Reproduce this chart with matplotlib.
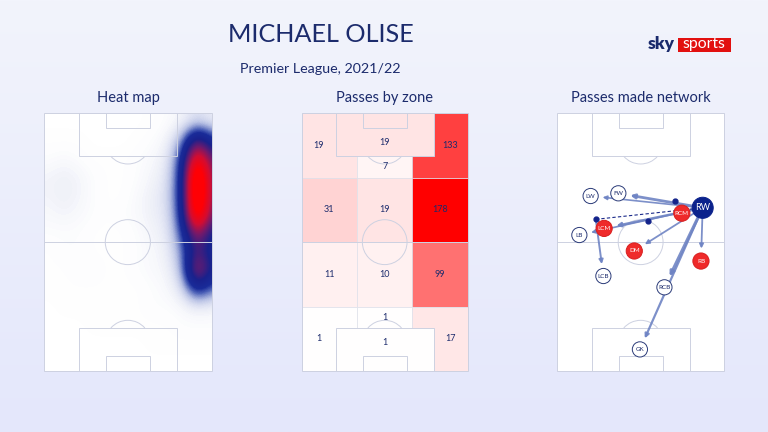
import numpy as np
import matplotlib
matplotlib.use("Agg")
import matplotlib.pyplot as plt
from matplotlib.colors import LinearSegmentedColormap, Normalize
from matplotlib.patches import Rectangle, Circle, Arc, FancyArrowPatch

plt.rcParams['font.family'] = ['Lato', 'DejaVu Sans']

# ---------------- data ----------------
title = "MICHAEL OLISE"
subtitle = "Premier League, 2021/22"
panel_titles = ["Heat map", "Passes by zone", "Passes made network"]

# heat map intensity (rows: top -> bottom of pitch, 7.5 units each;
# cols: left -> right, 6 units each, centred at x = 2, 8, ..., 68)
heat_grid = [
    [0.00, 0.00, 0.00, 0.00, 0.00, 0.00, 0.00, 0.01, 0.02, 0.04, 0.08, 0.05],
    [0.01, 0.01, 0.01, 0.00, 0.00, 0.00, 0.01, 0.02, 0.04, 0.15, 0.45, 0.25],
    [0.02, 0.03, 0.02, 0.01, 0.01, 0.01, 0.02, 0.03, 0.06, 0.24, 0.78, 0.42],
    [0.04, 0.05, 0.04, 0.02, 0.01, 0.01, 0.02, 0.04, 0.07, 0.26, 1.00, 0.46],
    [0.04, 0.05, 0.04, 0.02, 0.01, 0.01, 0.03, 0.05, 0.08, 0.26, 1.00, 0.46],
    [0.03, 0.04, 0.03, 0.02, 0.01, 0.02, 0.03, 0.05, 0.07, 0.25, 0.92, 0.42],
    [0.02, 0.02, 0.02, 0.01, 0.01, 0.01, 0.02, 0.04, 0.06, 0.21, 0.55, 0.30],
    [0.01, 0.02, 0.02, 0.01, 0.01, 0.01, 0.02, 0.03, 0.05, 0.16, 0.42, 0.26],
    [0.01, 0.01, 0.02, 0.02, 0.01, 0.01, 0.02, 0.03, 0.04, 0.13, 0.58, 0.32],
    [0.01, 0.01, 0.01, 0.01, 0.01, 0.01, 0.01, 0.02, 0.03, 0.08, 0.30, 0.18],
    [0.00, 0.01, 0.01, 0.01, 0.01, 0.01, 0.01, 0.02, 0.02, 0.03, 0.05, 0.04],
    [0.00, 0.00, 0.00, 0.01, 0.01, 0.01, 0.01, 0.01, 0.01, 0.02, 0.02, 0.02],
    [0.00, 0.00, 0.00, 0.00, 0.00, 0.00, 0.00, 0.01, 0.01, 0.01, 0.01, 0.01],
    [0.00, 0.00, 0.00, 0.00, 0.00, 0.00, 0.00, 0.00, 0.00, 0.00, 0.00, 0.00],
]

# passes by zone (rows: top -> bottom, cols: left -> right)
zone_values = [
    [19, 7, 133],
    [31, 19, 178],
    [11, 10, 99],
    [1, 1, 17],
]
box_values = [19, 1]  # top penalty box, bottom penalty box

# pass network
node_names = ["LW", "FW", "RW", "RCM", "LCM", "LB", "DM", "RB", "LCB", "RCB", "GK"]
node_x = [13.6, 24.9, 59.3, 50.8, 19.1, 9.0, 31.4, 58.6, 18.8, 43.7, 33.7]
node_y = [71.3, 72.4, 66.5, 64.3, 58.1, 55.4, 48.9, 44.8, 38.7, 34.1, 8.8]
node_group = ["other", "other", "player", "top", "top", "other", "top", "top",
              "other", "other", "other"]
pass_to = ["FW", "LW", "LCM", "LB", "DM", "RB", "RCB", "GK"]
pass_from = ["RW"] * len(pass_to)
point_x = [48.0, 36.9, 15.7]
point_y = [69.3, 61.2, 61.8]

# ---------------- style ----------------
W, H = 768, 432
NAVY = "#1c2b6c"
LINE = "#cdd1e1"
L, WID = 68.0, 105.0

fig = plt.figure(figsize=(7.68, 4.32), dpi=100)

def fx(px):
    return px / W

def fy(py):
    return 1 - py / H

# background gradient
bg = fig.add_axes([0, 0, 1, 1], zorder=-5)
grad = np.linspace(0, 1, 256).reshape(-1, 1)
bg_cmap = LinearSegmentedColormap.from_list("bg", ["#f2f4fc", "#e4e7fb"])
bg.imshow(grad, aspect="auto", cmap=bg_cmap, extent=(0, 1, 0, 1), origin="upper")
bg.axis("off")

def pitch_axes(left_px, right_px, top_px=113.3, bottom_px=371.0):
    ax = fig.add_axes([fx(left_px), fy(bottom_px), (right_px - left_px) / W,
                       (bottom_px - top_px) / H])
    ax.set_xlim(0, L)
    ax.set_ylim(0, WID)
    ax.axis("off")
    return ax

def draw_lines(ax, z=3, lw=0.8, box_fill=None):
    kw = dict(ec=LINE, lw=lw, zorder=z)
    ax.add_patch(Rectangle((0, 0), L, WID, fc="none", clip_on=False, **kw))
    ax.plot([0, L], [WID / 2, WID / 2], color=LINE, lw=lw, zorder=z)
    ax.add_patch(Circle((L / 2, WID / 2), 9.15, fc="none", **kw))
    bw, bd = 40.0, 17.5
    sw, sd = 18.0, 6.0
    for i, yb in enumerate([WID - bd, 0]):
        fc = "none" if box_fill is None else box_fill[i]
        ax.add_patch(Rectangle(((L - bw) / 2, yb), bw, bd, fc=fc, **kw))
    for yb in [WID - sd, 0]:
        ax.add_patch(Rectangle(((L - sw) / 2, yb), sw, sd, fc="none", **kw))
    ax.add_patch(Arc((L / 2, WID - 11.5), 18.3, 18.3, theta1=221, theta2=319,
                     color=LINE, lw=lw, zorder=z))
    ax.add_patch(Arc((L / 2, 11.5), 18.3, 18.3, theta1=41, theta2=139,
                     color=LINE, lw=lw, zorder=z))

# ---------------- titles ----------------
fig.text(fx(321), fy(34.5), title, ha="center", va="center", fontsize=18.2,
         color=NAVY)
fig.text(fx(320.5), fy(69), subtitle, ha="center", va="center", fontsize=10.3,
         color=NAVY)
for t, cx in zip(panel_titles, [128.3, 384.7, 640.8]):
    fig.text(fx(cx), fy(98), t, ha="center", va="center", fontsize=10.5,
             color=NAVY)

# logo
fig.text(fx(647.5), fy(44), "sky", ha="left", va="center", fontsize=12.5,
         fontweight="heavy", color="#1a2a6c")
fig.patches.append(Rectangle((fx(677.5), fy(51.5)), fx(53), 13.5 / H,
                             transform=fig.transFigure, fc="#e2100f", ec="none"))
fig.text(fx(704), fy(44.2), "sports", ha="center", va="center", fontsize=11.3,
         color="white")

# ---------------- heat map ----------------
ax1 = pitch_axes(44.0, 211.7)
ax1.add_patch(Rectangle((0, 0), L, WID, fc="white", ec="none", zorder=0))
heat_cmap = LinearSegmentedColormap.from_list("heat", [
    (0.00, (1, 1, 1, 0)),
    (0.04, (0.90, 0.91, 0.96, 0.5)),
    (0.12, (0.68, 0.72, 0.88, 0.9)),
    (0.19, (0.30, 0.38, 0.72, 1)),
    (0.24, (0.10, 0.17, 0.60, 1)),
    (0.34, (0.10, 0.13, 0.55, 1)),
    (0.46, (0.45, 0.10, 0.42, 1)),
    (0.58, (0.82, 0.05, 0.20, 1)),
    (0.72, (1.00, 0.00, 0.02, 1)),
    (1.00, (1.00, 0.00, 0.00, 1)),
])
ncols = len(heat_grid[0])
ax1.imshow(np.array(heat_grid), cmap=heat_cmap, vmin=0, vmax=1,
           extent=(-1.0, -1.0 + 6.0 * ncols, 0, WID), origin="upper",
           interpolation="bicubic", aspect="auto", zorder=1)
draw_lines(ax1, z=3, lw=0.7)
ax1.set_xlim(0, L)
ax1.set_ylim(0, WID)

# ---------------- passes by zone ----------------
ax2 = pitch_axes(301.7, 467.7)
zmax = max(max(r) for r in zone_values)
zone_cmap = LinearSegmentedColormap.from_list("zone", ["#ffffff", "#ff0000"])
znorm = Normalize(0, zmax)
cw, rh = L / 3, WID / 4
for r, row in enumerate(zone_values):
    for c, v in enumerate(row):
        ax2.add_patch(Rectangle((c * cw, WID - (r + 1) * rh), cw, rh,
                                fc=zone_cmap(znorm(v)), ec="#dfe1ea", lw=0.5,
                                zorder=1))
draw_lines(ax2, z=3, lw=0.7,
           box_fill=[zone_cmap(znorm(box_values[0])), zone_cmap(znorm(box_values[1]))])
bx0, bx1, bd, sd = (L - 40) / 2, (L + 40) / 2, 17.5, 6.0
for r, row in enumerate(zone_values):
    ytop = WID - r * rh
    ybot = WID - (r + 1) * rh
    for c, v in enumerate(row):
        if r in (0, 3):
            if c == 0:
                tx = bx0 / 2
            elif c == 2:
                tx = (bx1 + L) / 2
            else:
                tx = L / 2
            if c == 1:
                ty = (ybot + WID - bd) / 2 if r == 0 else (ytop + bd) / 2
            else:
                ty = (ytop + ybot) / 2
        else:
            tx = (c + 0.5) * cw
            ty = (ytop + ybot) / 2
        ax2.text(tx, ty, str(v), ha="center", va="center", fontsize=6.5,
                 color=NAVY, zorder=5)
ax2.text(L / 2, WID - (sd + bd) / 2, str(box_values[0]), ha="center",
         va="center", fontsize=6.5, color=NAVY, zorder=5)
ax2.text(L / 2, (sd + bd) / 2, str(box_values[1]), ha="center",
         va="center", fontsize=6.5, color=NAVY, zorder=5)

# ---------------- pass network ----------------
ax3 = pitch_axes(557.3, 724.0)
ax3.add_patch(Rectangle((0, 0), L, WID, fc="white", ec="none", zorder=0))
draw_lines(ax3, z=1, lw=0.7)
pos = {n: (x, y) for n, x, y in zip(node_names, node_x, node_y)}
radius = {"player": 4.3, "top": 3.3, "other": 3.1}
grp = dict(zip(node_names, node_group))
arrow_lw = {"FW": 2.0, "LW": 1.2, "LCM": 1.7, "LB": 1.2, "DM": 1.3,
            "RB": 1.3, "RCB": 2.2, "GK": 1.6}
ARROW = "#6f84c4"
for a, b in zip(pass_from, pass_to):
    x0, y0 = pos[a]
    x1, y1 = pos[b]
    d = np.hypot(x1 - x0, y1 - y0)
    ux, uy = (x1 - x0) / d, (y1 - y0) / d
    rr = radius[grp[b]] + 1.8
    ax3.add_patch(FancyArrowPatch((x0, y0), (x1 - ux * rr, y1 - uy * rr),
                                  arrowstyle="-|>", mutation_scale=6,
                                  lw=arrow_lw[b], color=ARROW, alpha=0.9,
                                  shrinkA=0, shrinkB=0, zorder=2))
# dashed link and pass from the deep point
ax3.plot([point_x[2], node_x[2]], [point_y[2], node_y[2]], ls=(0, (3, 2)),
         lw=0.8, color="#1a2a8a", zorder=2)
lx, ly = pos["LCB"]
d = np.hypot(lx - point_x[2], ly - point_y[2])
ux, uy = (lx - point_x[2]) / d, (ly - point_y[2]) / d
rr = radius["other"] + 1.8
ax3.add_patch(FancyArrowPatch((point_x[2], point_y[2]), (lx - ux * rr, ly - uy * rr),
                              arrowstyle="-|>", mutation_scale=6, lw=1.4,
                              color=ARROW, alpha=0.9, shrinkA=0, shrinkB=0,
                              zorder=2))
ax3.plot(point_x, point_y, "o", ms=3.5, color="#13238a", zorder=3)

for n in node_names:
    x, y = pos[n]
    g = grp[n]
    r = radius[g]
    if g == "player":
        fc, ec, tc, fs = "#0b228c", "#0b228c", "white", 6.5
    elif g == "top":
        fc, ec, tc, fs = "#ef2a2a", "#d81e1e", "white", 4.5
    else:
        fc, ec, tc, fs = "white", "#2a3a78", NAVY, 4.5
    ax3.add_patch(Circle((x, y), r, fc=fc, ec=ec, lw=0.7, zorder=4))
    ax3.text(x, y, n, ha="center", va="center", fontsize=fs, color=tc, zorder=5)

fig.savefig("out.png", dpi=100)
